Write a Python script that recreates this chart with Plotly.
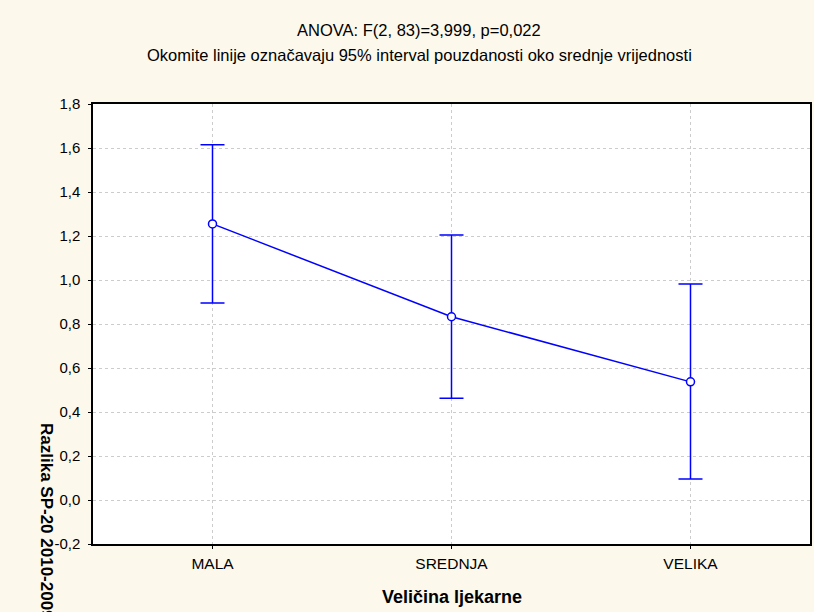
# Graf srednjih vrijednosti s 95% intervalom pouzdanosti (ANOVA)

import plotly.graph_objects as go

# Podaci
kategorije = ["MALA", "SREDNJA", "VELIKA"]
srednje = [1.255, 0.833, 0.537]
ci_gore = [0.360, 0.372, 0.445]
ci_dolje = [0.360, 0.370, 0.442]

y_tickovi = [-0.2, 0.0, 0.2, 0.4, 0.6, 0.8, 1.0, 1.2, 1.4, 1.6, 1.8]
y_oznake = ["-0,2", "0,0", "0,2", "0,4", "0,6", "0,8", "1,0", "1,2", "1,4", "1,6", "1,8"]

naslov_1 = "ANOVA: F(2, 83)=3,999, p=0,022"
naslov_2 = "Okomite linije označavaju 95% interval pouzdanosti oko srednje vrijednosti"
x_naslov = "Veličina ljekarne"
y_naslov = "Razlika SP-20 2010-2009"

PLAVA = "#0000FF"
FONT = "Liberation Sans, Arial, sans-serif"

fig = go.Figure()

fig.add_trace(go.Scatter(
    x=kategorije,
    y=srednje,
    mode="lines+markers",
    line=dict(color=PLAVA, width=1.5),
    marker=dict(symbol="circle", size=8, color="white",
                line=dict(color=PLAVA, width=1.5)),
    error_y=dict(type="data", symmetric=False, array=ci_gore, arrayminus=ci_dolje,
                 color=PLAVA, thickness=1.5, width=12),
    showlegend=False
))

fig.update_layout(
    width=814,
    height=612,
    paper_bgcolor="#FDF8EC",
    plot_bgcolor="white",
    margin=dict(l=93, r=4, t=104, b=68, autoexpand=False),
    font=dict(family=FONT, size=15, color="black"),
    xaxis=dict(
        type="category",
        range=[-0.5, 2.5],
        showgrid=True, gridcolor="#CCCCCC", griddash="dot", gridwidth=1,
        showline=True, linecolor="black", linewidth=1.5, mirror=True,
        ticks="outside", ticklen=3, tickcolor="black",
        tickfont=dict(size=15.5), ticklabelstandoff=2,
        zeroline=False,
    ),
    yaxis=dict(
        range=[-0.2, 1.8],
        tickvals=y_tickovi, ticktext=y_oznake,
        showgrid=True, gridcolor="#CCCCCC", griddash="dot", gridwidth=1,
        showline=True, linecolor="black", linewidth=1.5, mirror=True,
        ticks="outside", ticklen=3, tickcolor="black",
        tickfont=dict(size=15), ticklabelstandoff=5,
        zeroline=False,
    ),
)

# Naslov u dva reda
for tekst, y_pol in [(naslov_1, 1.168), (naslov_2, 1.111)]:
    fig.add_annotation(
        text=tekst, xref="paper", yref="paper",
        x=0.455, y=y_pol, xanchor="center", yanchor="middle",
        showarrow=False, font=dict(family=FONT, size=16.5, color="black"),
    )

# Naslov osi x
fig.add_annotation(
    text="<b>" + x_naslov + "</b>", xref="paper", yref="paper",
    x=0.5, y=-0.12, xanchor="center", yanchor="middle",
    showarrow=False, font=dict(family=FONT, size=18, color="black"),
)

# Naslov osi y (okrenut, dijelom odrezan kao u izvorniku)
fig.add_annotation(
    text="<b>" + y_naslov + "</b>",
    xref="paper", yref="paper",
    x=-0.064, y=0.052,
    xanchor="center", yanchor="middle",
    textangle=90, showarrow=False,
    font=dict(family=FONT, size=17, color="black"),
)

fig.write_html("out.html", config={"displayModeBar": False},
               post_script="document.body.style.margin='0';")
